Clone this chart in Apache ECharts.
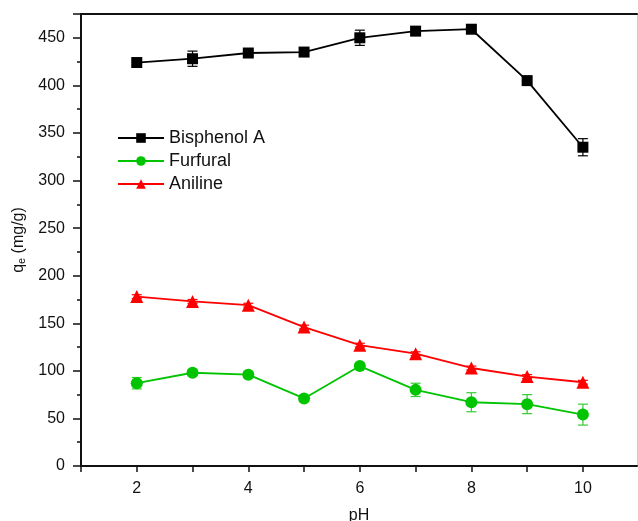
<!DOCTYPE html>
<html><head><meta charset="utf-8">
<script src="https://cdn.jsdelivr.net/npm/echarts@6/dist/echarts.min.js"></script>
<style>html,body{margin:0;padding:0;background:#fff}#c{width:638px;height:521px}</style>
</head><body><div id="c"></div>
<script>
const pH = [2, 3, 4, 5, 6, 7, 8, 9, 10];
const bpa = [424, 428, 434, 435, 450, 457, 459, 405, 335];
const bpaErr = [3, 8, 3, 3, 8, 2, 2, 3, 9];
const furfural = [87, 98, 96, 71, 105, 80, 67, 65, 54];
const furfuralErr = [6, 3, 3, 3, 3, 7, 10, 10, 11];
const aniline = [178, 173, 169, 146, 127, 118, 103, 94, 88];
const anilineErr = [2, 2, 2, 2, 2, 2, 2, 2, 2];
const xTicks = [2, 4, 6, 8, 10];
const yTicks = [0, 50, 100, 150, 200, 250, 300, 350, 400, 450];

const FONT = 'Arial, "Liberation Sans", sans-serif';
const chart = echarts.init(document.getElementById('c'), null, {renderer: 'canvas'});

function pts(vals) { return pH.map((x, i) => [x, vals[i]]); }
function errData(vals, errs) { return pH.map((x, i) => [x, vals[i] - errs[i], vals[i] + errs[i]]); }
function errSeries(name, vals, errs, color) {
  return {
    type: 'custom', name: name + ' err', silent: true, z: 1,
    data: errData(vals, errs),
    renderItem: function (params, api) {
      const x = api.value(0);
      const lo = api.coord([x, api.value(1)]);
      const hi = api.coord([x, api.value(2)]);
      const w = 5;
      const st = {stroke: color, lineWidth: 1.2};
      return {type: 'group', children: [
        {type: 'line', shape: {x1: lo[0], y1: lo[1], x2: hi[0], y2: hi[1]}, style: st},
        {type: 'line', shape: {x1: lo[0] - w, y1: lo[1], x2: lo[0] + w, y2: lo[1]}, style: st},
        {type: 'line', shape: {x1: hi[0] - w, y1: hi[1], x2: hi[0] + w, y2: hi[1]}, style: st}
      ]};
    }
  };
}

const option = {
  animation: false,
  backgroundColor: '#fff',
  textStyle: {fontFamily: FONT},
  grid: {left: 81, right: 1, top: 14, bottom: 55, containLabel: false, outerBoundsMode: 'none'},
  legend: {
    left: 112, top: 124, orient: 'vertical',
    itemWidth: 46, itemHeight: 12, itemGap: 5,
    textStyle: {fontSize: 18, color: '#111', fontFamily: FONT},
    data: ['Bisphenol A', 'Furfural', 'Aniline']
  },
  xAxis: [{
    type: 'value', min: 1, max: 10.97, interval: 1,
    name: 'pH', nameLocation: 'middle', nameGap: 42,
    nameTextStyle: {fontSize: 16, color: '#111'},
    axisLine: {show: true, onZero: false, lineStyle: {color: '#111', width: 2}},
    axisTick: {show: true, length: 6, lineStyle: {color: '#111', width: 1.5}},
    axisLabel: {fontSize: 16, color: '#111', margin: 15, showMaxLabel: false,
      formatter: v => xTicks.indexOf(v) >= 0 ? String(v) : ''},
    splitLine: {show: false}
  }, {
    type: 'value', min: 1, max: 10.97, position: 'top',
    axisLine: {show: true, onZero: false, lineStyle: {color: '#111', width: 2}},
    axisTick: {show: false}, axisLabel: {show: false}, splitLine: {show: false}
  }],
  yAxis: [{
    type: 'value', min: 0, max: 475, interval: 50,
    name: 'q{sub|e} (mg/g)', nameLocation: 'middle', nameGap: 53,
    nameTextStyle: {fontSize: 16, color: '#111',
      rich: {sub: {fontSize: 11, color: '#111', verticalAlign: 'bottom', padding: [6, 0, 0, 0]}}},
    axisLine: {show: true, onZero: false, lineStyle: {color: '#111', width: 2}},
    axisTick: {show: true, length: 8, lineStyle: {color: '#111', width: 1.5}},
    minorTick: {show: true, splitNumber: 2, length: 4, lineStyle: {color: '#111', width: 1.5}},
    axisLabel: {fontSize: 16, color: '#111', margin: 16,
      formatter: v => yTicks.indexOf(v) >= 0 ? String(v) : ''},
    splitLine: {show: false}
  }, {
    type: 'value', min: 0, max: 475, position: 'right',
    axisLine: {show: true, onZero: false, lineStyle: {color: '#ccc', width: 1}},
    axisTick: {show: false}, axisLabel: {show: false}, splitLine: {show: false}
  }],
  series: [
    errSeries('Bisphenol A', bpa, bpaErr, '#000'),
    errSeries('Furfural', furfural, furfuralErr, '#33cc33'),
    errSeries('Aniline', aniline, anilineErr, '#ff0000'),
    {name: 'Bisphenol A', type: 'line', data: pts(bpa), symbol: 'rect', symbolSize: 11,
      itemStyle: {color: '#000'}, lineStyle: {color: '#000', width: 1.8}, z: 3},
    {name: 'Furfural', type: 'line', data: pts(furfural), symbol: 'circle', symbolSize: 12,
      itemStyle: {color: '#00c400'}, lineStyle: {color: '#00c400', width: 1.8}, z: 3},
    {name: 'Aniline', type: 'line', data: pts(aniline), symbol: 'triangle', symbolSize: 13,
      itemStyle: {color: '#ff0000'}, lineStyle: {color: '#ff0000', width: 1.8}, z: 3}
  ]
};
chart.setOption(option);
</script></body></html>
